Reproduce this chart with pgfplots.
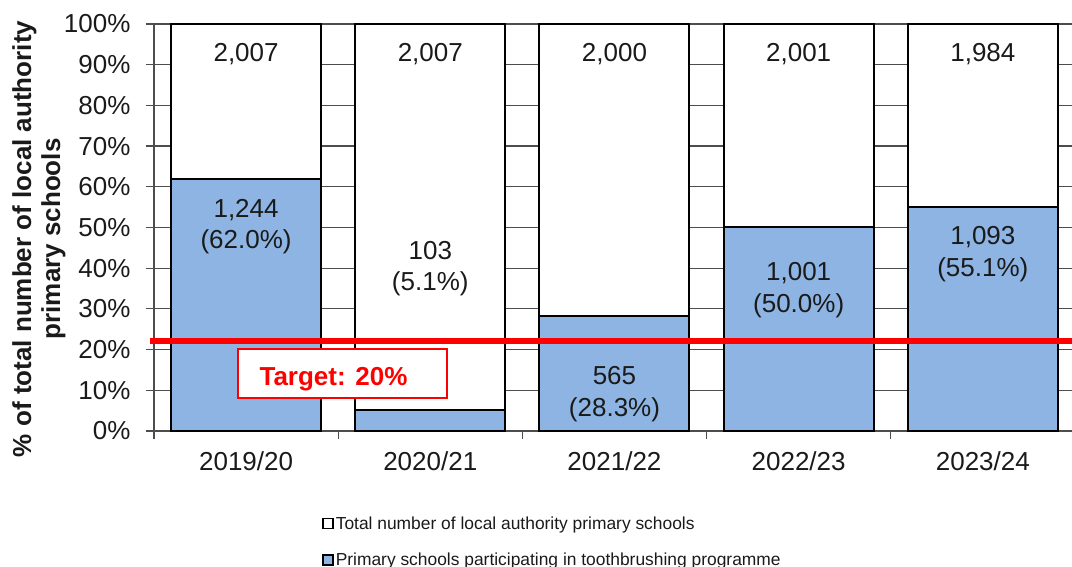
\documentclass[border=0pt]{standalone}
\usepackage{fontspec}
\setmainfont{Liberation Sans}
\usepackage{pgfplots}
\pgfplotsset{compat=1.18}
\definecolor{barblue}{HTML}{8DB4E2}
\definecolor{gridc}{HTML}{4D4D4D}
\definecolor{txt}{HTML}{1A1A1A}
\tikzset{lbl/.style={font=\fontsize{26}{31.6}\selectfont, align=center, text=txt}}
\pgfplotsset{
 legwhite/.style={legend image code/.code={\draw[fill=white,draw=black,line width=1.6pt](0pt,-5pt) rectangle (10pt,5pt);}},
 legblue/.style={legend image code/.code={\draw[fill=barblue,draw=black,line width=1.6pt](0pt,-5pt) rectangle (10pt,5pt);}},
}
\begin{document}
\begin{tikzpicture}
\begin{axis}[
 at={(154pt,136pt)}, anchor=south west,
 scale only axis, width=918pt, height=407pt,
 xmin=-0.5, xmax=4.484, ymin=0, ymax=100,
 ybar stacked, bar width=150pt, reverse stacked plots=false,
 axis x line*=bottom, axis y line*=left,
 axis line style={gridc, line width=1.2pt},
 ytick={0,10,...,100},
 yticklabels={0\%,10\%,20\%,30\%,40\%,50\%,60\%,70\%,80\%,90\%,100\%},
 yticklabel style={xshift=-12pt},
 xtick={-0.5,0.5,1.5,2.5,3.5},
 xticklabels={},
 extra x ticks={0,1,2,3,4},
 extra x tick labels={2019/20,2020/21,2021/22,2022/23,2023/24},
 extra x tick style={major tick length=0pt, xticklabel style={yshift=-17pt}},
 tick align=outside, major tick length=8pt,
 tick style={gridc, line width=1.2pt},
 ymajorgrids, grid style={gridc, line width=1.2pt},
 ticklabel style={font=\fontsize{26}{30}\selectfont, text=txt},
 ylabel={\% of total number of local authority\\primary schools},
 ylabel style={font=\bfseries\fontsize{26}{29}\selectfont, align=center, at={(axis description cs:-0.1253,0.472)}, anchor=center, text=txt},
 clip=false,
 reverse legend,
 legend style={at={(axis description cs:0.183,-0.205)}, anchor=north west, draw=none, fill=none, inner sep=0pt,
   font=\fontsize{17.4}{20}\selectfont, row sep=18pt, text=txt},
 legend cell align=left,
]
\addplot[fill=barblue, draw=black, line width=2pt, legblue] coordinates {(0,62.0) (1,5.1) (2,28.3) (3,50.0) (4,55.1)};
\addplot[fill=white, draw=black, line width=2pt, legwhite] coordinates {(0,38.0) (1,94.9) (2,71.7) (3,50.0) (4,44.9)};
\legend{Primary schools participating in toothbrushing programme, Total number of local authority primary schools}
\addplot[red, line width=6pt, sharp plot, stack plots=false, forget plot, mark=none] coordinates {(-0.522,22.2) (4.484,22.2)};
\node[lbl, anchor=base] at (axis cs:0,90.7) {2,007};
\node[lbl, anchor=base] at (axis cs:1,90.7) {2,007};
\node[lbl, anchor=base] at (axis cs:2,90.7) {2,000};
\node[lbl, anchor=base] at (axis cs:3,90.7) {2,001};
\node[lbl, anchor=base] at (axis cs:4,90.7) {1,984};
\node[lbl] at (axis cs:0,50.2) {1,244\\(62.0\%)};
\node[lbl] at (axis cs:1,39.9) {103\\(5.1\%)};
\node[lbl] at (axis cs:2,9.0) {565\\(28.3\%)};
\node[lbl] at (axis cs:3,34.6) {1,001\\(50.0\%)};
\node[lbl] at (axis cs:4,43.5) {1,093\\(55.1\%)};
\node[draw=red, line width=2.5pt, fill=white, minimum width=209pt, minimum height=49pt, inner sep=0pt] at (axis cs:0.523,14.1) {};
\node[text=red, font=\bfseries\fontsize{26}{30}\selectfont, anchor=base] at (axis cs:0.4745,11.3) {Target: 20\%};
\end{axis}
\pgfresetboundingbox
\path (0,0) rectangle (1072pt,567pt);
\end{tikzpicture}
\end{document}
